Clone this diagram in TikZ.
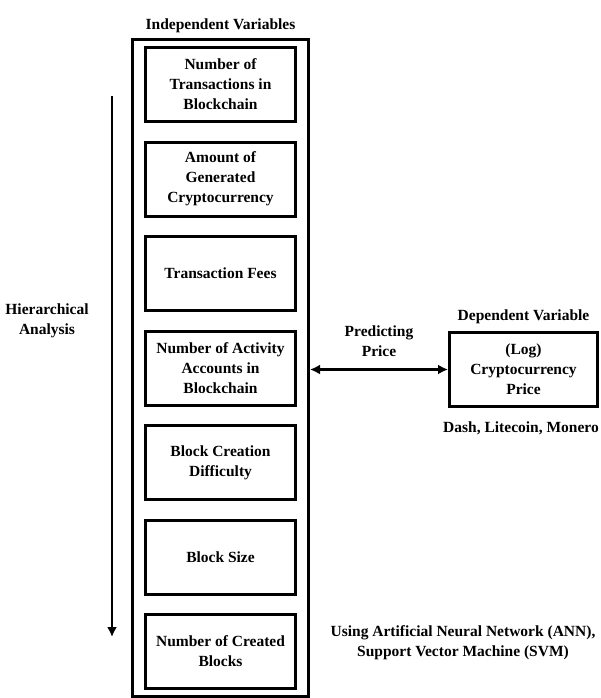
\documentclass[tikz,border=0pt]{standalone}
\usepackage{fontspec}
\setmainfont{Liberation Serif}
\usetikzlibrary{arrows.meta, positioning, fit}

\begin{document}
\begin{tikzpicture}[x=1pt, y=-1pt, node distance={17.5pt}, font=\bfseries\fontsize{15.5}{20}\selectfont,
        main/.style = {draw, line width=3pt, minimum width=150pt, minimum height=74pt, align=center},
        >={Latex[length=10pt, width=10pt]}]
            \useasboundingbox (0,0) rectangle (600,698);

            \node[main] (N1) at (220.5,84.5) {Number of\\Transactions in\\Blockchain};
            \node[main] (N2) [below=of N1] {Amount of\\Generated\\Cryptocurrency};
            \node[main] (N3) [below=of N2] {Transaction Fees};
            \node[main] (N4) [below=of N3] {Number of Activity\\Accounts in\\Blockchain};
            \node[main] (N5) [below=of N4] {Block Creation\\Difficulty};
            \node[main] (N6) [below=of N5] {Block Size};
            \node[main] (N7) [below=of N6] {Number of Created\\Blocks};
            \node[draw, line width=3pt, fit=(N1)(N7), inner xsep=11.5pt, inner ysep=6pt] (IV) {};
            \node (IVT) [above=2pt of IV] {Independent Variables};

            \node[main, minimum width=148pt] (P) at (523.5,369.5) {(Log)\\Cryptocurrency\\Price};
            \node (DVT) [above=4pt of P] {Dependent Variable};
            \node (DLM) at (521,428) {Dash, Litecoin, Monero};

            \path[<->, line width=2.5pt] (P.west -| IV.east) edge node[above=8pt, align=center] (PP) {Predicting\\Price} (P.west);

            \coordinate (H1) at (112,96);
            \coordinate (H2) at (112,637);
            \path[->, line width=2.5pt] (H1) edge (H2);
            \node[align=center] (HA) at (47,321) {Hierarchical\\Analysis};

            \node[align=center] (ML) at (463,643) {Using Artificial Neural Network (ANN),\\Support Vector Machine (SVM)};
        \end{tikzpicture}
\end{document}
